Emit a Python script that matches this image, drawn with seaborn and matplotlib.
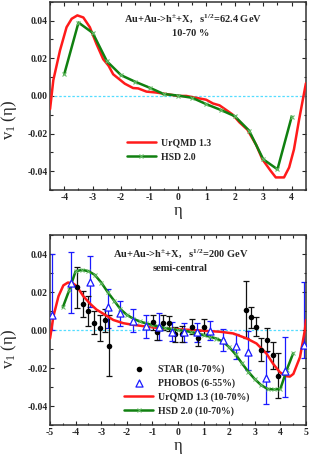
import numpy as np
import pandas as pd
import matplotlib
matplotlib.use("Agg")
import matplotlib.pyplot as plt
import seaborn as sns
from matplotlib.ticker import MultipleLocator, FormatStrFormatter

# --- DATA : 62.4 GeV (haut) ---
urqmd62_eta = [-4.5, -4.385, -4.15, -3.92, -3.74, -3.54, -3.33, -3.10, -2.87, -2.63, -2.44,
               -2.28, -1.87, -1.58, -1.4, -1.11, -0.76, -0.41, 0.0, 0.29, 0.64, 0.99, 1.23,
               1.46, 1.69, 1.93, 2.16, 2.44, 2.75, 2.97, 3.26, 3.44, 3.73, 3.91, 4.08, 4.26, 4.5]
urqmd62_v1 = [-0.007, 0.0084, 0.0242, 0.0365, 0.041, 0.0428, 0.0417, 0.0365, 0.0277, 0.0195, 0.016,
              0.0115, 0.0065, 0.0042, 0.004, 0.0023, 0.0018, 0.001, 0.0, 0.0, -0.001, -0.002, -0.004,
              -0.005, -0.0074, -0.01, -0.014, -0.0179, -0.026, -0.0337, -0.0398, -0.0433, -0.0433,
              -0.038, -0.0284, -0.0126, 0.0067]
hsd62_eta = [-4, -3.5, -3, -2.5, -2, -1.5, -1, -0.5, 0, 0.5, 1, 1.5, 2, 2.5, 3, 3.5, 4]
hsd62_v1 = [0.0116, 0.039, 0.0335, 0.0184, 0.011, 0.0075, 0.0044, 0.001, 0.0002, -0.001,
            -0.0044, -0.0074, -0.0108, -0.0184, -0.0337, -0.039, -0.011]

# --- DATA : 200 GeV (bas) ---
star_eta = [-3.93, -3.70, -3.50, -3.27, -3.05, -2.85, -2.68, -0.99, -0.81, -0.57, -0.34, -0.12,
            0.14, 0.56, 0.79, 1.02, 2.66, 2.84, 3.05, 3.24, 3.49, 3.73, 3.92]
star_v1 = [0.0224, 0.0137, 0.010, 0.0039, 0.0011, 0.0052, -0.0082, 0.0041, -0.0012, 0.0039,
           0.0036, -0.0023, -0.0021, 0.0018, -0.0044, 0.0018, 0.0107, 0.0068, 0.0018, -0.0103,
           -0.005, -0.0133, -0.024]
star_err = [0.011, 0.007, 0.008, 0.006, 0.007, 0.006, 0.016, 0.004, 0.004, 0.004, 0.004, 0.004,
            0.004, 0.004, 0.004, 0.004, 0.015, 0.0055, 0.005, 0.006, 0.006, 0.007, 0.012]

phobos_eta = [-4.93, -4.18, -3.44, -2.75, -2.25, -1.75, -1.25, -0.75, -0.25,
              0.25, 0.75, 1.25, 1.75, 2.25, 2.75, 3.44, 4.18, 4.93]
phobos_v1 = [0.0078, 0.025, 0.0254, 0.0123, 0.0087, 0.0049, 0.002, 0.0018, -0.001,
             -0.0013, -0.0013, -0.0005, -0.005, -0.0085, -0.0116, -0.0254, -0.0215, -0.0078]
phobos_err_lo = [0.008, 0.016, 0.0135, 0.011, 0.0065, 0.006, 0.006, 0.007, 0.005,
                 0.005, 0.005, 0.005, 0.0058, 0.0065, 0.0095, 0.0135, 0.014, 0.007]
phobos_err_hi = [0.032, 0.016, 0.0135, 0.0095, 0.0065, 0.006, 0.006, 0.007, 0.005,
                 0.005, 0.005, 0.005, 0.0058, 0.0065, 0.011, 0.0137, 0.018, 0.033]

urqmd200_eta = [-5.0, -4.87, -4.67, -4.48, -4.3, -4.1, -3.96, -3.70, -3.44, -3.18, -2.85, -2.53,
                -2.14, -1.74, -1.22, -0.70, 0.0, 0.6, 1.12, 1.64, 2.16, 2.68, 3.07, 3.46, 3.72,
                3.98, 4.24, 4.375, 4.51, 4.77, 4.96, 5.0]
urqmd200_v1 = [-0.0044, 0.0071, 0.0178, 0.0235, 0.025, 0.0245, 0.0231, 0.0178, 0.0139, 0.0107,
               0.008, 0.0053, 0.0036, 0.0027, 0.0018, 0.0009, 0.0004, 0.0, -0.0005, -0.0009,
               -0.0018, -0.0044, -0.0071, -0.0124, -0.0178, -0.0222, -0.0243, -0.0245, -0.0231,
               -0.0142, 0.0, 0.0053]
hsd200_eta = [-4.5, -4.25, -4.0, -3.75, -3.5, -3.25, -3.0, -2.75, -2.5, -2.25, -2.0, -1.75,
              -1.5, -1.25, -1.0, -0.75, -0.5, -0.25, 0.0, 0.25, 0.5, 0.75, 1.0, 1.25, 1.5,
              1.75, 2.0, 2.25, 2.5, 2.75, 3.0, 3.25, 3.5, 3.75, 4.0, 4.25, 4.5]
hsd200_v1 = [0.012, 0.021, 0.031, 0.0316, 0.031, 0.029, 0.025, 0.020, 0.0155, 0.011, 0.008,
             0.006, 0.0045, 0.0035, 0.0027, 0.0018, 0.001, 0.0005, 0.0, -0.0005, -0.001,
             -0.0018, -0.0027, -0.0035, -0.0045, -0.006, -0.009, -0.0128, -0.0175, -0.022,
             -0.0258, -0.029, -0.031, -0.0313, -0.031, -0.021, -0.0123]

# --- STYLE ---
sns.set_style("ticks")
plt.rcParams['font.family'] = ['Liberation Serif', 'DejaVu Serif']
plt.rcParams['font.weight'] = 'bold'
plt.rcParams['mathtext.default'] = 'regular'
plt.rcParams['axes.linewidth'] = 1.1
plt.rcParams['axes.edgecolor'] = '#333333'

RED = '#ff1a1a'
GREEN = '#108010'
FS_TICK = 7
FS_TXT = 7.5
FS_LEG = 7
FS_LAB = 12

fig = plt.figure(figsize=(3.09, 4.59), dpi=100)
ax1 = fig.add_axes([0.162, 0.586, 0.828, 0.41])
ax2 = fig.add_axes([0.162, 0.074, 0.828, 0.414])


def style_axis(ax, xlim, xmaj, ylab_y):
    ax.set_xlim(*xlim)
    ax.set_ylim(-0.05, 0.05)
    ax.xaxis.set_major_locator(MultipleLocator(xmaj))
    ax.xaxis.set_minor_locator(MultipleLocator(0.5))
    ax.yaxis.set_major_locator(MultipleLocator(0.02))
    ax.yaxis.set_minor_locator(MultipleLocator(0.01))
    ax.yaxis.set_major_formatter(FormatStrFormatter('%.2f'))
    ax.xaxis.set_major_formatter(FormatStrFormatter('%d'))
    ax.tick_params(which='both', direction='in', top=True, right=True, labelsize=FS_TICK,
                   width=0.8, pad=2)
    ax.tick_params(which='major', length=3)
    ax.tick_params(which='minor', length=1.8)
    ax.axhline(0, color='#55ddff', lw=0.9, ls=(0, (2, 1.5)), zorder=1)
    ax.set_xlabel('η', fontsize=FS_LAB, labelpad=1)
    ax.set_ylabel('v$_1$ (η)', fontsize=FS_LAB)
    ax.yaxis.set_label_coords(-0.12, ylab_y)


# --- Panneau haut ---
style_axis(ax1, (-4.5, 4.5), 1, 0.37)
sns.lineplot(x=urqmd62_eta, y=urqmd62_v1, ax=ax1, color=RED, lw=1.8, label='UrQMD 1.3',
             sort=False, zorder=3)
sns.lineplot(x=hsd62_eta, y=hsd62_v1, ax=ax1, color=GREEN, lw=1.8, marker='x', ms=3,
             mec='#66bb66', mew=0.8, label='HSD 2.0', sort=False, zorder=4)
ax1.text(0.56, 0.91, 'Au+Au->h$^{\\pm}$+X,   s$^{1/2}$=62.4 GeV', transform=ax1.transAxes,
         ha='center', va='center', fontsize=FS_TXT)
ax1.text(0.55, 0.83, '10-70 %', transform=ax1.transAxes, ha='center', va='center',
         fontsize=FS_TXT)
ax1.legend(loc='upper left', bbox_to_anchor=(0.28, 0.30), frameon=False, fontsize=FS_LEG,
           handlelength=3.0, handletextpad=0.5, labelspacing=0.55, borderpad=0)

# --- Panneau bas ---
style_axis(ax2, (-5, 5), 1, 0.40)
ax2.errorbar(phobos_eta, phobos_v1, yerr=[phobos_err_lo, phobos_err_hi], fmt='none',
             ecolor='#1a1aff', elinewidth=0.9, capsize=2.2, capthick=0.9, zorder=2)
ax2.errorbar(star_eta, star_v1, yerr=star_err, fmt='none', ecolor='#111111',
             elinewidth=0.9, capsize=2.2, capthick=0.9, zorder=2)
sns.scatterplot(x=star_eta, y=star_v1, ax=ax2, color='black', marker='o', s=16,
                edgecolor='black', linewidth=0, label='STAR (10-70%)', zorder=5)
sns.scatterplot(x=phobos_eta, y=phobos_v1, ax=ax2, marker='^', s=26, facecolor='white',
                edgecolor='#1a1aff', linewidth=0.9, label='PHOBOS (6-55%)', zorder=5)
sns.lineplot(x=urqmd200_eta, y=urqmd200_v1, ax=ax2, color=RED, lw=1.8,
             label='UrQMD 1.3 (10-70%)', sort=False, zorder=3)
sns.lineplot(x=hsd200_eta, y=hsd200_v1, ax=ax2, color=GREEN, lw=1.8, marker='x', ms=2.5,
             mec='#66bb66', mew=0.7, label='HSD 2.0 (10-70%)', sort=False, zorder=4)
ax2.text(0.51, 0.90, 'Au+Au->h$^{\\pm}$+X,   s$^{1/2}$=200 GeV', transform=ax2.transAxes,
         ha='center', va='center', fontsize=FS_TXT)
ax2.text(0.51, 0.826, 'semi-central', transform=ax2.transAxes, ha='center', va='center',
         fontsize=FS_TXT)
ax2.legend(loc='upper left', bbox_to_anchor=(0.27, 0.345), frameon=False, fontsize=FS_LEG,
           handlelength=3.0, handletextpad=0.5, labelspacing=0.45, borderpad=0)

fig.savefig('out.png', dpi=100)
